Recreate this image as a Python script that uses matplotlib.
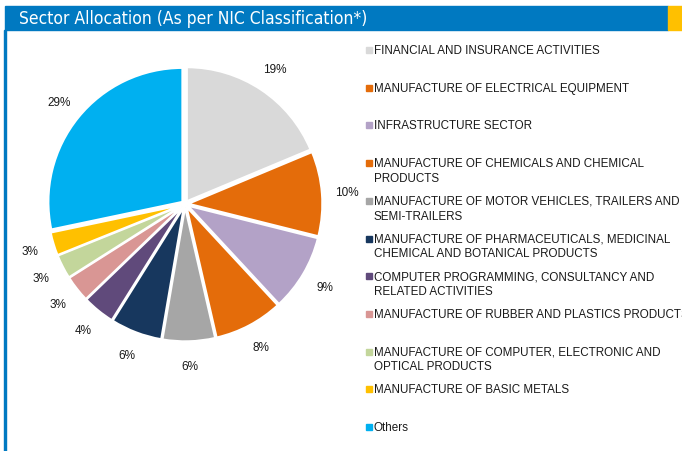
import numpy as np
import matplotlib.pyplot as plt
from matplotlib.patches import Rectangle

sectors = ["FINANCIAL AND INSURANCE ACTIVITIES",
           "MANUFACTURE OF ELECTRICAL EQUIPMENT",
           "INFRASTRUCTURE SECTOR",
           "MANUFACTURE OF CHEMICALS AND CHEMICAL\nPRODUCTS",
           "MANUFACTURE OF MOTOR VEHICLES, TRAILERS AND\nSEMI-TRAILERS",
           "MANUFACTURE OF PHARMACEUTICALS, MEDICINAL\nCHEMICAL AND BOTANICAL PRODUCTS",
           "COMPUTER PROGRAMMING, CONSULTANCY AND\nRELATED ACTIVITIES",
           "MANUFACTURE OF RUBBER AND PLASTICS PRODUCTS",
           "MANUFACTURE OF COMPUTER, ELECTRONIC AND\nOPTICAL PRODUCTS",
           "MANUFACTURE OF BASIC METALS",
           "Others"]
weights = [18.7, 10.2, 9.2, 8.3, 6.3, 6.2, 3.9, 3.2, 2.9, 2.8, 28.3]
pct_text = ["19%", "10%", "9%", "8%", "6%", "6%", "4%", "3%", "3%", "3%", "29%"]
colors = ["#D9D9D9", "#E46C0A", "#B3A2C7", "#E46C0A", "#A6A6A6", "#17375E",
          "#604A7B", "#D99694", "#C3D69B", "#FFC000", "#00B0F0"]

W, H = 682, 452
fig = plt.figure(figsize=(W / 100, H / 100), dpi=100)

# header bar + left border
fig.patches.append(Rectangle((5 / W, 1 - 31 / H), 663 / W, 24 / H, transform=fig.transFigure,
                             color="#0079C1", zorder=0))
fig.patches.append(Rectangle((668 / W, 1 - 31 / H), 14 / W, 24 / H, transform=fig.transFigure,
                             color="#FFC000", zorder=0))
fig.patches.append(Rectangle((4 / W, 0), 2 / W, 1 - 31 / H, transform=fig.transFigure,
                             color="#0079C1", zorder=0))
fig.text(19 / W, 1 - 19 / H, "Sector Allocation (As per NIC Classification*)", color="white",
         fontsize=12.5, family="DejaVu Sans", fontstretch="condensed", va="center", ha="left")

# pie
cx, cy, r = 185, 205, 134
side = 2.5 * r
ax = fig.add_axes([(cx - side / 2) / W, (H - cy - side / 2) / H, side / W, side / H])
wedges, _ = ax.pie(weights, colors=colors, startangle=90, counterclock=False,
                   explode=[0.025] * len(weights),
                   wedgeprops=dict(edgecolor="white", linewidth=1.5))
for w, t in zip(wedges, pct_text):
    ang = np.deg2rad((w.theta1 + w.theta2) / 2)
    ax.text(1.21 * np.cos(ang), 1.21 * np.sin(ang), t, ha="center", va="center",
            fontsize=8.5, family="Liberation Sans", color="#1a1a1a")
ax.set_xlim(-1.25, 1.25)
ax.set_ylim(-1.25, 1.25)

# legend
y0 = 51
step = 37.7
for i, (lab, c) in enumerate(zip(sectors, colors)):
    y = y0 + i * step
    fig.patches.append(Rectangle((366 / W, 1 - (y + 3) / H), 6 / W, 6 / H,
                                 transform=fig.transFigure, color=c))
    fig.text(374 / W, 1 - (y - 6) / H, lab, fontsize=8.4, family="Liberation Sans",
             va="top", ha="left", color="#1a1a1a", linespacing=1.3)

fig.savefig("out.png", dpi=100)
